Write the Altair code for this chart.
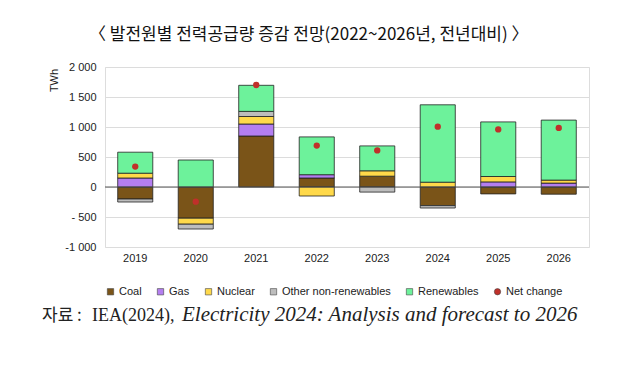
import altair as alt
import pandas as pd

years = ["2019", "2020", "2021", "2022", "2023", "2024", "2025", "2026"]
coal = [-200, -520, 850, 150, 180, -310, -115, -120]
gas = [150, 0, 200, 55, 0, 0, 85, 65]
nuclear = [80, -100, 125, -150, 90, 80, 90, 50]
other = [-50, -80, 85, 0, -85, -40, 0, 0]
renewables = [350, 450, 435, 630, 415, 1290, 910, 1000]
net_change = [340, -245, 1700, 690, 610, 1005, 960, 985]
y_ticks = [-1000, -500, 0, 500, 1000, 1500, 2000]

sources = ["Coal", "Gas", "Nuclear", "Other non-renewables", "Renewables"]
colors = ["#7a5418", "#b47ef0", "#ffd94a", "#bdbdbd", "#6df29b", "#c0302a"]
legend_names = sources + ["Net change"]
shapes = ["square"] * 5 + ["circle"]

rows = []
for i, y in enumerate(years):
    for k, (name, vals) in enumerate(zip(sources, [coal, gas, nuclear, other, renewables])):
        if vals[i] != 0:
            rows.append({"year": y, "source": name, "value": vals[i], "ord": k})
bars_df = pd.DataFrame(rows)
net_df = pd.DataFrame({"year": years, "value": net_change, "source": ["Net change"] * len(years)})

color_scale = alt.Scale(domain=legend_names, range=colors)
shape_scale = alt.Scale(domain=legend_names, range=shapes)
y_scale = alt.Scale(domain=[-1000, 2000], nice=False)

legend = alt.Legend(
    title=None, orient="none", legendX=0, legendY=219, direction="horizontal",
    columns=6, labelFont="Liberation Sans", labelFontSize=11, labelColor="#222",
    symbolSize=40, labelOffset=3, columnPadding=13, padding=0,
    symbolStrokeWidth=0.6, symbolStrokeColor="#444",
)

x_axis = alt.Axis(labelAngle=0, domain=False, ticks=False, labelPadding=5,
                  labelFont="Liberation Sans", labelFontSize=11, labelColor="#222")
y_axis = alt.Axis(values=y_ticks, tickCount=7,
                  labelExpr="datum.value == -500 ? '- 500' : datum.value == -1000 ? '-1 000' : replace(format(datum.value, ','), ',', ' ')",
                  labelOverlap=False,
                  domain=False, ticks=False, labelPadding=9,
                  labelFont="Liberation Sans", labelFontSize=11, labelColor="#222",
                  gridColor="#dcdcdc", gridWidth=1,
                  titleFont="Liberation Sans", titleFontSize=11, titleFontWeight="normal",
                  titleColor="#222", titleAngle=-90, titleX=-51, titleY=13,
                  titleAlign="center", titleBaseline="middle")

x_enc = alt.X("year:N", sort=years, title=None,
              scale=alt.Scale(paddingInner=0.42, paddingOuter=0.21), axis=x_axis)

bars = alt.Chart(bars_df).mark_bar(stroke="#222", strokeWidth=0.8).encode(
    x=x_enc,
    y=alt.Y("value:Q", title="TWh", stack="zero", scale=y_scale, axis=y_axis),
    color=alt.Color("source:N", scale=color_scale, legend=legend),
    order=alt.Order("ord:Q"),
)

zero = alt.Chart(pd.DataFrame({"v": [0]})).mark_rule(color="#555", strokeWidth=1).encode(
    y=alt.Y("v:Q", title="TWh", scale=y_scale, axis=y_axis)
)

points = alt.Chart(net_df).mark_point(filled=True, size=40, opacity=1).encode(
    x=x_enc,
    y=alt.Y("value:Q", title="TWh", scale=y_scale, axis=y_axis),
    color=alt.Color("source:N", scale=color_scale, legend=legend),
    shape=alt.Shape("source:N", scale=shape_scale, legend=legend),
)

src0 = alt.Chart(pd.DataFrame({"t": ["자료 :"]})).mark_text(
    font="Noto Sans CJK KR", fontSize=17, align="left", baseline="alphabetic", color="#222"
).encode(text="t:N", x=alt.value(-63), y=alt.value(254))

src1 = alt.Chart(pd.DataFrame({"t": ["IEA(2024),"]})).mark_text(
    font="Liberation Serif", fontSize=18, align="left", baseline="alphabetic", color="#222"
).encode(text="t:N", x=alt.value(-13), y=alt.value(254))

src2 = alt.Chart(pd.DataFrame({"t": ["Electricity 2024: Analysis and forecast to 2026"]})).mark_text(
    font="Liberation Serif", fontSize=21, fontStyle="italic", align="left",
    baseline="alphabetic", color="#222", limit=0
).encode(text="t:N", x=alt.value(77), y=alt.value(254))

chart = alt.layer(bars, zero, points, src0, src1, src2).properties(
    width=484, height=180,
    title=alt.TitleParams(
        "〈 발전원별 전력공급량 증감 전망(2022~2026년, 전년대비) 〉",
        font="Noto Sans CJK KR", fontSize=17, fontWeight="normal", color="#111",
        anchor="start", dx=47, offset=17,
    ),
    autosize=alt.AutoSizeParams(type="none"),
    padding={"left": 97, "top": 59, "right": 37, "bottom": 110},
).configure_view(stroke=None).configure(background="white")

chart.save("out.html", embed_options={"renderer": "svg", "actions": False})
